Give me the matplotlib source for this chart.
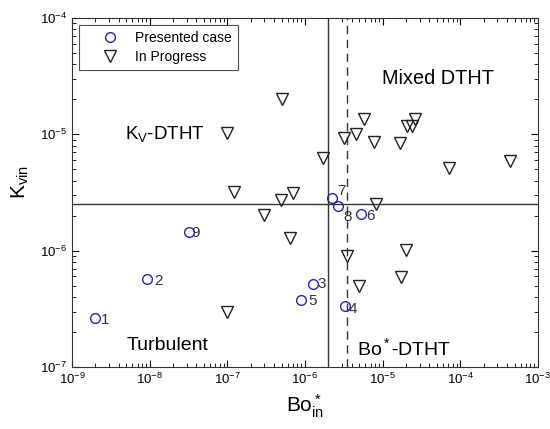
import numpy as np
import matplotlib.pyplot as plt

plt.rcParams['font.family'] = ['Liberation Sans', 'DejaVu Sans']
plt.rcParams['mathtext.fontset'] = 'custom'
plt.rcParams['mathtext.rm'] = 'Liberation Sans'
plt.rcParams['mathtext.it'] = 'Liberation Sans'
plt.rcParams['mathtext.default'] = 'regular'

# presented cases (numbered)
case_ids = ['1', '2', '3', '4', '5', '6', '7', '8', '9']
case_bo = [2.0e-9, 9.2e-9, 1.28e-6, 3.24e-6, 9.0e-7, 5.25e-6, 2.24e-6, 2.68e-6, 3.2e-8]
case_kv = [2.62e-7, 5.66e-7, 5.16e-7, 3.36e-7, 3.78e-7, 2.05e-6, 2.85e-6, 2.42e-6, 1.45e-6]

# cases still in progress
prog_bo = [9.8e-8, 1.23e-7, 9.8e-8, 5.0e-7, 5.78e-6, 3.2e-6, 4.48e-6, 7.7e-6,
           1.66e-5, 2.09e-5, 2.4e-5, 2.65e-5, 7.1e-5, 4.34e-4, 1.71e-6, 8.3e-6,
           7.05e-7, 4.9e-7, 2.99e-7, 6.4e-7, 3.43e-6, 1.99e-5, 1.7e-5, 4.94e-6]
prog_kv = [1.02e-5, 3.21e-6, 2.95e-7, 2.0e-5, 1.35e-5, 9.24e-6, 1.01e-5, 8.65e-6,
           8.47e-6, 1.18e-5, 1.17e-5, 1.35e-5, 5.16e-6, 5.93e-6, 6.22e-6, 2.51e-6,
           3.11e-6, 2.72e-6, 2.02e-6, 1.28e-6, 9.0e-7, 1.01e-6, 5.93e-7, 4.99e-7]

# regime boundaries
kv_crit = 2.5e-6
bo_crit = 2.0e-6
bo_crit2 = 3.43e-6

# label offsets (points) for the case numbers
label_offsets = {'1': (4, -4), '2': (5, -4), '3': (3, -3), '4': (3, -5), '5': (5, -4),
                 '6': (4, -4), '7': (4, 2), '8': (4, -11), '9': (2, -4)}

fig = plt.figure(figsize=(5.5, 4.29), dpi=100)
ax = fig.add_axes([0.131, 0.1445, 0.847, 0.8135])

ax.set_xscale('log')
ax.set_yscale('log')
ax.set_xlim(1e-9, 1e-3)
ax.set_ylim(1e-7, 1e-4)

ax.axhline(kv_crit, color='#333333', lw=1.0)
ax.axvline(bo_crit, color='#333333', lw=1.0)
ax.axvline(bo_crit2, color='#333333', lw=1.0, ls=(0, (6, 4)))

ax.plot(case_bo, case_kv, 'o', ms=7, mfc='none', mec='#2626b0', mew=1.0,
        label='Presented case', zorder=3)
ax.plot(prog_bo, prog_kv, 'v', ms=8, mfc='none', mec='#222222', mew=1.0,
        label='In Progress', zorder=3)

for cid, bx, ky in zip(case_ids, case_bo, case_kv):
    dx, dy = label_offsets[cid]
    ax.annotate(cid, (bx, ky), xytext=(dx, dy), textcoords='offset points',
                fontsize=11, color='#333333')

# regime names
ax.text(4.8e-9, 1.0e-5, r'$K_V$-DTHT', fontsize=13.5, va='center')
ax.text(5.1e-5, 3.05e-5, 'Mixed DTHT', fontsize=14.3, va='center', ha='center')
ax.text(1.72e-8, 1.52e-7, 'Turbulent', fontsize=14, va='center', ha='center')
ax.text(1.87e-5, 1.46e-7, r'$Bo^*$-DTHT', fontsize=14, va='center', ha='center')

ax.set_xlabel(r'$Bo^*_{in}$', fontsize=15)
ax.set_ylabel(r'$K_{vin}$', fontsize=15)
ax.yaxis.set_label_coords(-0.088, 0.53)

ax.tick_params(which='both', direction='in', top=True, right=True, labelsize=9.5)
ax.tick_params(which='major', length=5)
ax.tick_params(which='minor', length=3)
for s in ax.spines.values():
    s.set_color('#333333')

leg = ax.legend(loc='upper left', fontsize=10, frameon=True, fancybox=False,
                edgecolor='#222222', borderpad=0.45, handletextpad=0.0,
                bbox_to_anchor=(0.015, 0.98), borderaxespad=0,
                handlelength=3.6, labelspacing=0.35)
leg.get_frame().set_linewidth(0.8)

fig.savefig('out.png', dpi=100)
